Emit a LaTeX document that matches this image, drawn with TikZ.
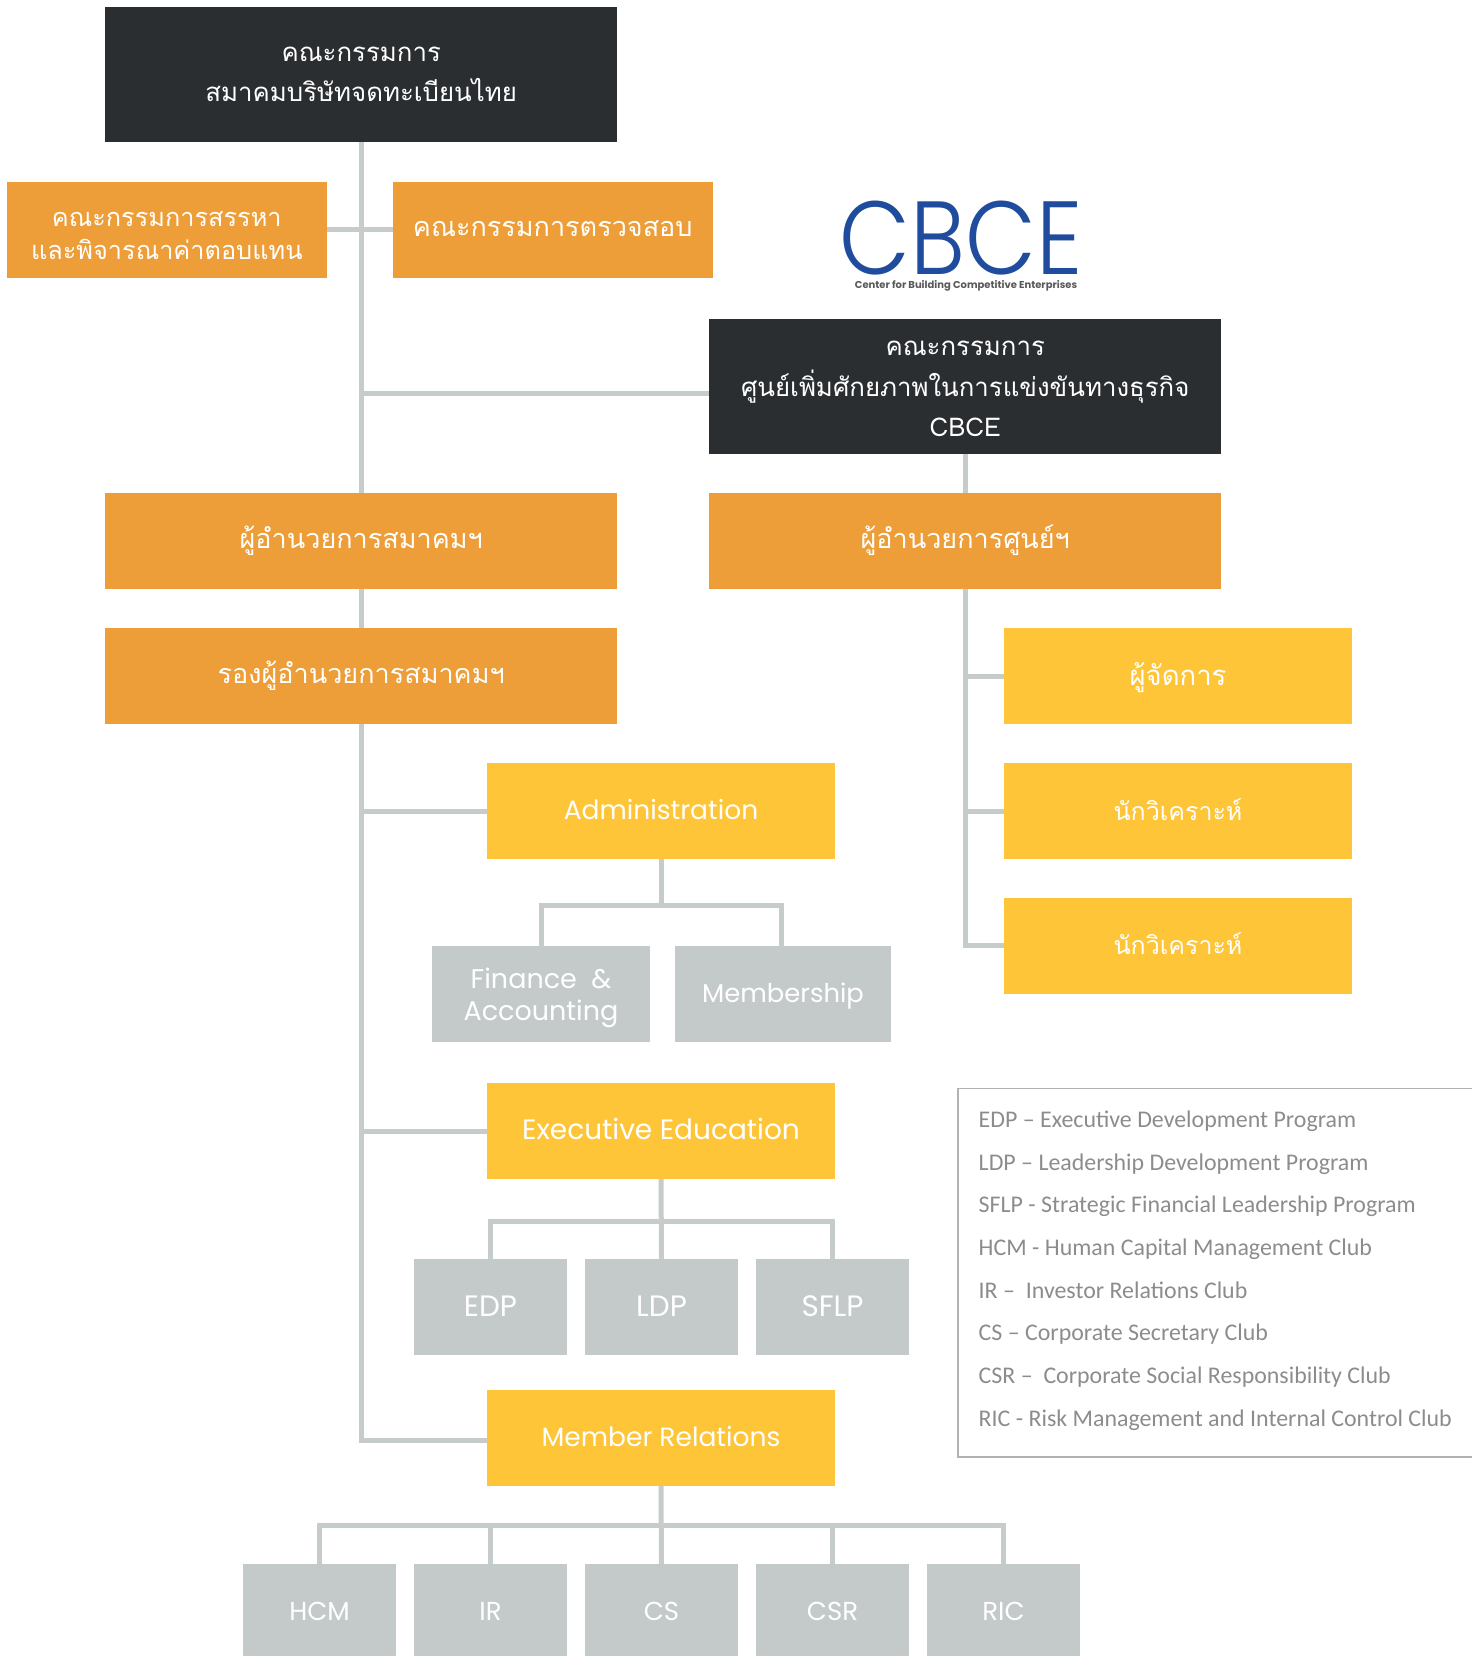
\documentclass[tikz,border=0pt]{standalone}
\usepackage{fontspec}
\setmainfont{Poppins}
\newfontfamily\logofont{Poppins Light}
\newfontfamily\thaifont[Script=Thai]{Loma}
\newfontfamily\notefont{Carlito}
\usetikzlibrary{calc}

\definecolor{boarddark}{HTML}{2B2E31}
\definecolor{orangebox}{HTML}{ED9E38}
\definecolor{yellowbox}{HTML}{FEC538}
\definecolor{greybox}{HTML}{C4CACA}
\definecolor{linkgrey}{HTML}{C6CCCC}
\definecolor{logoblue}{HTML}{1F4C9C}

\tikzset{
  textbase/.style={text height=#1,text depth=0pt},
  plainbox/.style={inner sep=0pt,outer sep=0pt,align=center,text=white},
  boardbox/.style={plainbox,fill=boarddark,minimum width=512pt,minimum height=135pt,font=\thaifont\fontsize{25.8}{40.5}\selectfont},
  headbox/.style={plainbox,fill=orangebox,minimum width=512pt,minimum height=96pt,textbase=14.6pt,font=\thaifont\fontsize{27}{34}\selectfont},
  commbox/.style={plainbox,fill=orangebox,minimum width=319.5pt,minimum height=96pt,font=\thaifont\fontsize{27}{32.6}\selectfont},
  staffbox/.style={plainbox,fill=yellowbox,minimum width=347.4pt,minimum height=96pt,textbase=18pt,font=\thaifont\fontsize{27.5}{34}\selectfont},
  deptbox/.style={plainbox,fill=yellowbox,minimum width=348.5pt,minimum height=96pt,textbase=16.6pt,font=\fontsize{26.5}{32}\selectfont},
  unitbox/.style={plainbox,fill=greybox,minimum width=153pt,minimum height=96pt,textbase=16pt,font=\fontsize{26}{32}\selectfont},
  link/.style={draw=linkgrey,line width=5pt},
  noteline/.style={draw=black!30,line width=1.5pt}
}

\begin{document}
\begin{tikzpicture}[x=1pt,y=-1pt]

\useasboundingbox (0,0) rectangle (1472,1656);

\node[boardbox,textbase=54.4pt] (topboard) at (361.2,74.5) {คณะกรรมการ\\สมาคมบริษัทจดทะเบียนไทย};
\node[commbox,textbase=59pt,font=\thaifont\fontsize{25.3}{32.6}\selectfont] (nomination) at (166.8,229.7) {คณะกรรมการสรรหา\\และพิจารณาค่าตอบแทน};
\node[commbox,textbase=14pt] (audit) at (552.8,229.7) {คณะกรรมการตรวจสอบ};
\node[boardbox,textbase=100.4pt] (centreboard) at (965.2,386.5) {คณะกรรมการ\\ศูนย์เพิ่มศักยภาพในการแข่งขันทางธุรกิจ\\CBCE};

\node[headbox] (director) at (361.2,541) {ผู้อำนวยการสมาคมฯ};
\node[headbox] (centredirector) at (965.2,541) {ผู้อำนวยการศูนย์ฯ};
\node[headbox] (deputy) at (361.2,676) {รองผู้อำนวยการสมาคมฯ};

\node[staffbox] (manager) at (1178,676) {ผู้จัดการ};
\node[staffbox,font=\thaifont\fontsize{25}{34}\selectfont] (analysta) at (1178,811) {นักวิเคราะห์};
\node[staffbox,font=\thaifont\fontsize{25}{34}\selectfont] (analystb) at (1178,945.7) {นักวิเคราะห์};

\node[deptbox] (admin) at (661,811) {Administration};
\node[unitbox,textbase=51.6pt,minimum width=218pt,font=\fontsize{27}{32}\selectfont] (finance) at (541,994.2) {Finance \ \&\\Accounting};
\node[unitbox,textbase=17pt,minimum width=216.5pt,font=\fontsize{25.8}{32}\selectfont] (membership) at (783,994.2) {Membership};

\node[deptbox,font=\fontsize{28}{32}\selectfont] (execedu) at (661,1131) {Executive Education};
\node[unitbox,textbase=20pt,font=\fontsize{29.5}{32}\selectfont] (edp) at (490.5,1306.8) {EDP};
\node[unitbox,textbase=20pt,font=\fontsize{29.5}{32}\selectfont] (ldp) at (661.5,1306.8) {LDP};
\node[unitbox,textbase=20pt,font=\fontsize{29.5}{32}\selectfont] (sflp) at (832.5,1306.8) {SFLP};

\node[deptbox] (memberrel) at (661,1438) {Member Relations};
\node[unitbox] (hcm) at (319.5,1612) {HCM};
\node[unitbox] (ir) at (490.5,1612) {IR};
\node[unitbox] (cs) at (661.5,1612) {CS};
\node[unitbox] (csr) at (832.5,1612) {CSR};
\node[unitbox] (ric) at (1003.5,1612) {RIC};

\node[inner sep=0pt,text=logoblue,font=\logofont\fontsize{92}{92}\selectfont] (logo) at (961,238) {\scalebox{1}[1.13]{CBCE}};
\node[inner sep=0pt,text=black!65,font=\bfseries\fontsize{10}{12}\selectfont,below=0pt] (logotext) at (966,280) {Center for Building Competitive Enterprises};

\coordinate (boardin) at (708.6,393);
\coordinate (adminbus) at (661,905);
\coordinate (edubus) at (661,1221);
\coordinate (memberbus) at (661,1525);
\coordinate (memberlink) at (486.8,1440.3);

\draw[link] (topboard.south)--(director.north);
\draw[link] (nomination.east)--(audit.west);
\draw[link] (boardin -| topboard.south)--(boardin);
\draw[link] (director.south)--(deputy.north);
\draw[link] (centreboard.south)--(centredirector.north);

\draw[link] (centredirector.south) |- (manager.west);
\draw[link] (centredirector.south) |- (analysta.west);
\draw[link] (centredirector.south) |- (analystb.west);

\draw[link] (deputy.south) |- (admin.west);
\draw[link] (deputy.south) |- (execedu.west);
\draw[link] (deputy.south) |- (memberlink);

\draw[link] (admin.south)--(adminbus);
\draw[link] (finance.north) |- (adminbus) -| ([xshift=-2pt]membership.north);

\draw[link] (execedu.south)--(ldp.north);
\draw[link] (edp.north) |- (edubus) -| (sflp.north);

\draw[link] (memberrel.south)--(cs.north);
\draw[link] (ir.north)--(ir.north |- memberbus);
\draw[link] (csr.north)--(csr.north |- memberbus);
\draw[link] (hcm.north) |- (memberbus) -| (ric.north);

\coordinate (notetop) at (957.8,1088.7);
\coordinate (notebottom) at (957.8,1457);
\coordinate (noteedgetop) at (1472,1088.7);
\coordinate (noteedgebottom) at (1472,1457);
\draw[noteline] (noteedgetop)--(notetop)--(notebottom)--(noteedgebottom);

\node[anchor=north west,inner sep=0pt,align=left,text=black!45,font=\notefont\fontsize{23.9}{42.7}\selectfont] (notes) at (978.5,1110.5) {EDP – Executive Development Program\\
LDP – Leadership Development Program\\
SFLP - Strategic Financial Leadership Program\\
HCM - Human Capital Management Club\\
IR – \ Investor Relations Club\\
CS – Corporate Secretary Club\\
CSR – \ Corporate Social Responsibility Club\\
RIC - Risk Management and Internal Control Club};

\end{tikzpicture}
\end{document}
